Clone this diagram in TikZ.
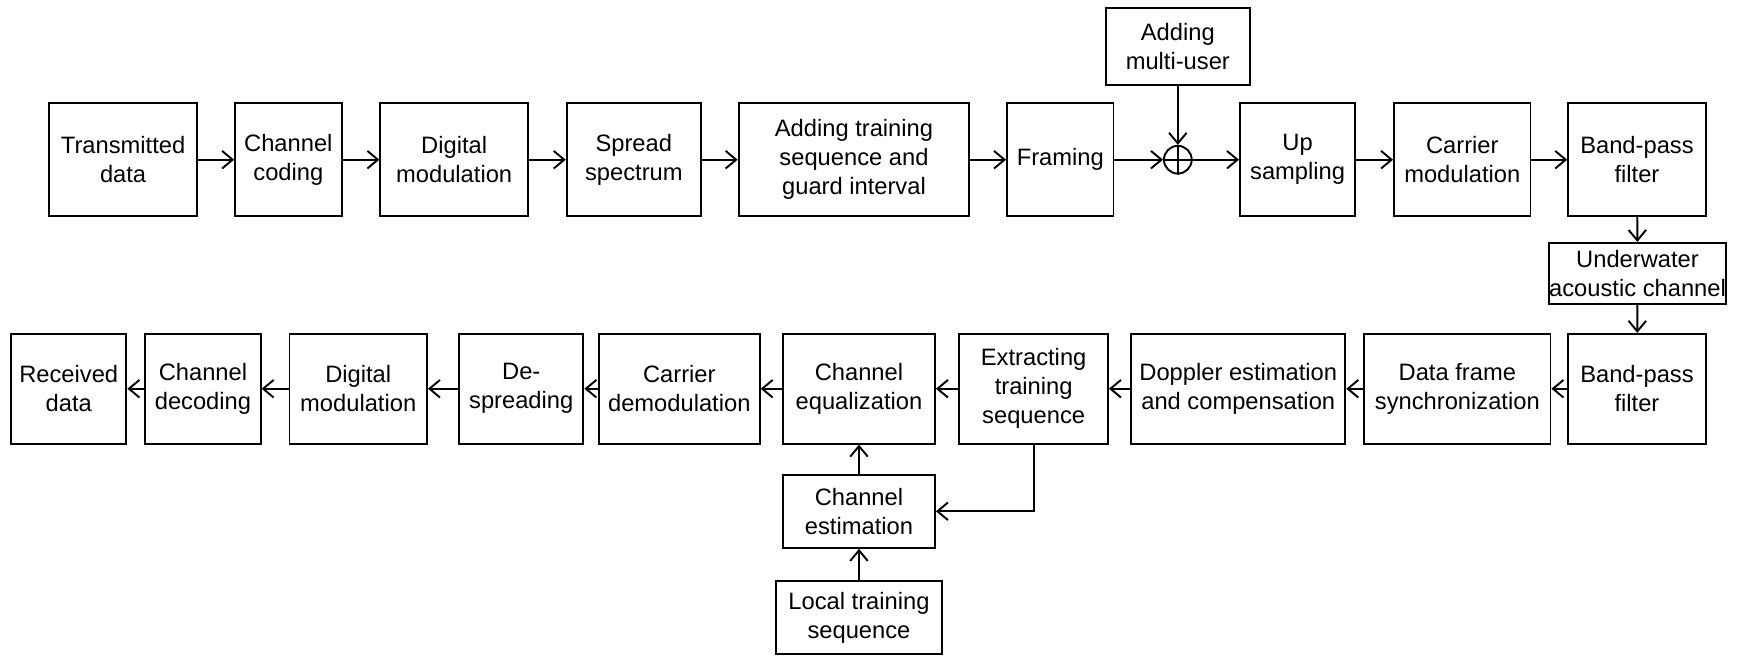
\documentclass[tikz,border=0pt]{standalone}
\usepackage{fontspec}
\setmainfont{Liberation Sans}
\usetikzlibrary{arrows.meta}
\newcommand{\px}{0.02218cm}

\begin{document}
\begin{tikzpicture}[x=\px,y=-\px,line width=1.1pt,>={Straight Barb[length=6pt,width=10pt]},
  blk/.style 2 args={draw,rectangle,align=center,inner sep=0pt,
    minimum width=#1*\px,minimum height=#2*\px,font=\fontsize{13.5}{16.5}\selectfont}]
\useasboundingbox (0,0) rectangle (1568,592);
% transmitter chain
\node[blk={134}{102}] (tx) at (111,144) {Transmitted\\data};
\node[blk={96}{102}] (cc) at (260,144) {Channel\\coding};
\node[blk={133}{102}] (dm) at (409.5,144) {Digital\\modulation};
\node[blk={121}{102}] (ss) at (571.5,144) {Spread\\spectrum};
\node[blk={208}{102}] (ats) at (770,144) {Adding training\\sequence and\\guard interval};
\node[blk={96}{102}] (fr) at (956,144) {Framing};
\node[blk={130}{70}] (mu) at (1062,42) {Adding\\multi-user};
\node[draw,circle,minimum size=25*\px,inner sep=0pt] (sum) at (1062,144) {};
\node[blk={104}{102}] (up) at (1170,144) {Up\\sampling};
\node[blk={123}{102}] (cm) at (1318.5,144) {Carrier\\modulation};
\node[blk={124}{102}] (bp1) at (1476,144) {Band-pass\\filter};
\node[blk={139}{55}] (uw) at (1476.5,246.5) {Underwater\\acoustic channel};
% receiver chain
\node[blk={124}{99}] (bp2) at (1476,350.5) {Band-pass\\filter};
\node[blk={168}{99}] (dfs) at (1314,350.5) {Data frame\\synchronization};
\node[blk={193}{99}] (dop) at (1116.5,350.5) {Doppler estimation\\and compensation};
\node[blk={134}{99}] (ext) at (932,350.5) {Extracting\\training\\sequence};
\node[blk={137}{99}] (eq) at (774.5,350.5) {Channel\\equalization};
\node[blk={145}{99}] (cd) at (612.5,350.5) {Carrier\\demodulation};
\node[blk={112}{99}] (ds) at (470,350.5) {De-\\spreading};
\node[blk={124}{99}] (dm2) at (323,350.5) {Digital\\modulation};
\node[blk={104}{99}] (cdec) at (183,350.5) {Channel\\decoding};
\node[blk={104}{99}] (rx) at (62,350.5) {Received\\data};
\node[blk={137}{66}] (est) at (774.5,461) {Channel\\estimation};
\node[blk={149}{66}] (loc) at (774.5,557) {Local training\\sequence};

\draw (sum.north) -- (sum.south) (sum.west) -- (sum.east);
\draw[->] (tx) -- (cc);
\draw[->] (cc) -- (dm);
\draw[->] (dm) -- (ss);
\draw[->] (ss) -- (ats);
\draw[->] (ats) -- (fr);
\draw[->] (fr) -- (sum);
\draw[->] (mu) -- (sum);
\draw[->] (sum) -- (up);
\draw[->] (up) -- (cm);
\draw[->] (cm) -- (bp1);
\draw[->] (bp1) -- (uw);
\draw[->] (uw) -- (bp2);
\draw[->] (bp2) -- (dfs);
\draw[->] (dfs) -- (dop);
\draw[->] (dop) -- (ext);
\draw[->] (ext) -- (eq);
\draw[->] (eq) -- (cd);
\draw[->] (cd) -- (ds);
\draw[->] (ds) -- (dm2);
\draw[->] (dm2) -- (cdec);
\draw[->] (cdec) -- (rx);
\draw[->] (loc) -- (est);
\draw[->] (est) -- (eq);
\draw[->] (ext.south) |- (est.east);
\end{tikzpicture}
\end{document}
